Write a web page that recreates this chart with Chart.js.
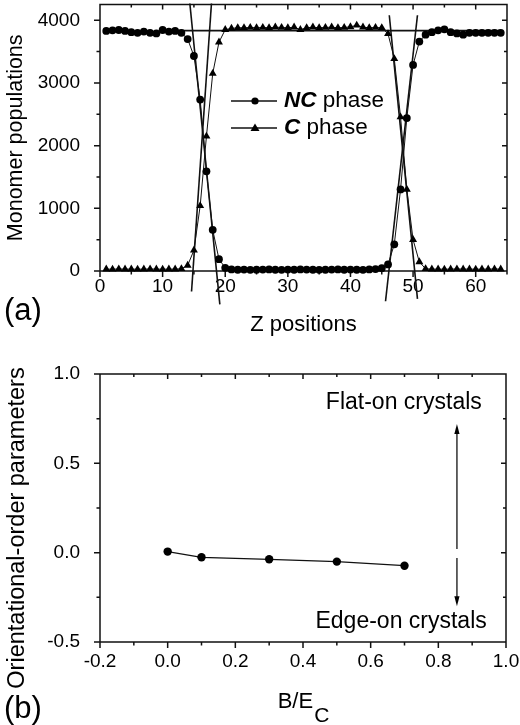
<!DOCTYPE html>
<html>
<head>
<meta charset="utf-8">
<script src="https://cdn.jsdelivr.net/npm/chart.js@4.4.0/dist/chart.umd.min.js"></script>
<style>
  html, body { margin: 0; padding: 0; background: #fff; }
  #wrap { position: relative; width: 520px; height: 725px; overflow: hidden; }
  canvas { position: absolute; left: 0; }
  #top { top: 0; }
  #bottom { top: 350px; }
</style>
</head>
<body>
<div id="wrap">
  <canvas id="top" width="520" height="350"></canvas>
  <canvas id="bottom" width="520" height="375"></canvas>
</div>
<script>
// (a) monomer populations along z
var zPos = [1, 2, 3, 4, 5, 6, 7, 8, 9, 10, 11, 12, 13, 14, 15, 16, 17, 18, 19, 20,
  21, 22, 23, 24, 25, 26, 27, 28, 29, 30, 31, 32, 33, 34, 35, 36, 37, 38, 39, 40,
  41, 42, 43, 44, 45, 46, 47, 48, 49, 50, 51, 52, 53, 54, 55, 56, 57, 58, 59, 60,
  61, 62, 63, 64];
var ncPop = [3830, 3840, 3845, 3830, 3810, 3800, 3820, 3800, 3790, 3845,
  3820, 3830, 3800, 3700, 3430, 2735, 1590, 657, 189, 50,
  25, 20, 22, 18, 20, 22, 25, 20, 18, 22, 20, 25, 22, 20, 18, 20, 22, 25, 20, 22,
  20, 18, 25, 30, 45,
  105, 425, 1302, 2440, 3287, 3660, 3770, 3810, 3840, 3855,
  3810, 3790, 3770, 3800, 3800, 3800, 3800, 3800, 3800];
var cPop = [30, 28, 32, 30, 30, 28, 30, 32, 30, 28, 30, 30, 35,
  90, 330, 1040, 2150, 3150, 3650, 3850,
  3870, 3880, 3880, 3885, 3880, 3885, 3880, 3890, 3885, 3880, 3890, 3850, 3880,
  3890, 3880, 3885, 3890, 3880, 3885, 3895, 3920, 3890, 3880, 3885, 3880,
  3784, 3386, 2457, 1302, 499, 146, 35,
  30, 30, 28, 30, 32, 30, 30, 28, 30, 30, 32, 30];
var zTicks = [0, 10, 20, 30, 40, 50, 60];
var popTicks = [0, 1000, 2000, 3000, 4000];

// straight fits through the two interfaces
var fitNcLeftX = [14.35, 19.14], fitNcLeftY = [4268, -533];
var fitCLeftX = [17.8, 14.62], fitCLeftY = [4268, -326];
var fitCRightX = [46.2, 50.7], fitCRightY = [4080, -444];
var fitNcRightX = [45.6, 50.7], fitNcRightY = [-483, 4080];
var plateauX = [9.6, 64], plateauY = [3835, 3835];

// (b) orientational order vs B/Ec
var ratioB = [0, 0.1, 0.3, 0.5, 0.7];
var orderParam = [0.006, -0.026, -0.037, -0.050, -0.073];
var ratioTicks = [-0.2, 0, 0.2, 0.4, 0.6, 0.8, 1.0];
var orderTicks = [-0.5, 0, 0.5, 1.0];
var arrowX = 0.855;
var arrowUpY = [0.02, 0.72];
var arrowDownY = [-0.03, -0.30];

var SANS = '"Liberation Sans", Arial, sans-serif';

function pts(xs, ys) {
  return xs.map(function (x, i) { return { x: x, y: ys[i] }; });
}

function fixedTicks(values) {
  return function (s) { s.ticks = values.map(function (v) { return { value: v }; }); };
}

function fitLine(xs, ys) {
  return { data: pts(xs, ys), borderColor: '#111', borderWidth: 1.6, pointRadius: 0, clip: false };
}

// box around the plot plus major/minor ticks (out on left/bottom, in on top/right)
var framePlugin = {
  id: 'frame',
  beforeDatasetsDraw: function (chart, args, o) {
    var ctx = chart.ctx, a = chart.chartArea;
    var xs = chart.scales.x, ys = chart.scales.y;
    ctx.save();
    ctx.strokeStyle = '#111';
    ctx.lineWidth = 1.5;
    ctx.beginPath();
    ctx.rect(a.left, a.top, a.right - a.left, a.bottom - a.top);
    function run(scale, minor, major, cb) {
      var ratio = Math.round(major / minor);
      for (var i = Math.ceil(scale.min / minor - 1e-9); i * minor <= scale.max + 1e-9; i++) {
        cb(scale.getPixelForValue(i * minor), i % ratio === 0);
      }
    }
    run(xs, o.xMinor, o.xMajor, function (p, big) {
      ctx.moveTo(p, a.bottom); ctx.lineTo(p, a.bottom + (big ? 6 : 3.5));
      ctx.moveTo(p, a.top); ctx.lineTo(p, a.top + (big ? 5 : 3));
    });
    run(ys, o.yMinor, o.yMajor, function (p, big) {
      ctx.moveTo(a.left, p); ctx.lineTo(a.left - (big ? 6 : 3.5), p);
      ctx.moveTo(a.right, p); ctx.lineTo(a.right - (big ? 5 : 3), p);
    });
    ctx.stroke();
    ctx.restore();
  }
};

var topLegend = {
  id: 'topLegend',
  afterDraw: function (chart) {
    var ctx = chart.ctx;
    var rows = [
      { y: 101, shape: 'circle', bold: 'NC' },
      { y: 128, shape: 'triangle', bold: 'C' }
    ];
    ctx.save();
    ctx.fillStyle = '#000';
    ctx.strokeStyle = '#111';
    ctx.lineWidth = 1.3;
    rows.forEach(function (r) {
      ctx.beginPath();
      ctx.moveTo(231, r.y); ctx.lineTo(277, r.y);
      ctx.stroke();
      ctx.beginPath();
      if (r.shape === 'circle') {
        ctx.arc(255, r.y, 3.6, 0, Math.PI * 2);
      } else {
        ctx.moveTo(255, r.y - 4.5); ctx.lineTo(259.5, r.y + 3); ctx.lineTo(250.5, r.y + 3);
        ctx.closePath();
      }
      ctx.fill();
      ctx.textBaseline = 'middle';
      ctx.textAlign = 'left';
      ctx.font = 'italic bold 22.5px ' + SANS;
      ctx.fillText(r.bold, 284, r.y);
      var w = ctx.measureText(r.bold).width;
      ctx.font = '22.5px ' + SANS;
      ctx.fillText(' phase', 284 + w, r.y);
    });
    ctx.font = '31px ' + SANS;
    ctx.textBaseline = 'alphabetic';
    ctx.fillText('(a)', 4, 320);
    ctx.restore();
  }
};

var bottomNotes = {
  id: 'bottomNotes',
  afterDraw: function (chart) {
    var ctx = chart.ctx, xs = chart.scales.x, ys = chart.scales.y;
    ctx.save();
    ctx.fillStyle = '#000';
    ctx.strokeStyle = '#111';
    ctx.lineWidth = 1.3;
    function arrow(x, y0, y1) {
      var px = xs.getPixelForValue(x), p0 = ys.getPixelForValue(y0), p1 = ys.getPixelForValue(y1);
      var dir = p1 < p0 ? 1 : -1;
      ctx.beginPath();
      ctx.moveTo(px, p0); ctx.lineTo(px, p1 + dir * 6);
      ctx.stroke();
      ctx.beginPath();
      ctx.moveTo(px, p1); ctx.lineTo(px + 2.6, p1 + dir * 10); ctx.lineTo(px - 2.6, p1 + dir * 10);
      ctx.closePath();
      ctx.fill();
    }
    arrow(arrowX, arrowUpY[0], arrowUpY[1]);
    arrow(arrowX, arrowDownY[0], arrowDownY[1]);

    ctx.font = '23px ' + SANS;
    ctx.textAlign = 'center';
    ctx.textBaseline = 'middle';
    ctx.fillText('Flat-on crystals', xs.getPixelForValue(0.698), ys.getPixelForValue(0.838));
    ctx.fillText('Edge-on crystals', xs.getPixelForValue(0.690), ys.getPixelForValue(-0.386));

    // y title
    ctx.save();
    ctx.translate(24, 178);
    ctx.rotate(-Math.PI / 2);
    ctx.font = '23.5px ' + SANS;
    ctx.textBaseline = 'alphabetic';
    ctx.fillText('Orientational-order parameters', 0, 0);
    ctx.restore();

    // x title B/E with subscript C
    ctx.textAlign = 'left';
    ctx.textBaseline = 'alphabetic';
    ctx.font = '22px ' + SANS;
    var w1 = ctx.measureText('B/E').width;
    ctx.font = '21px ' + SANS;
    var w2 = ctx.measureText('C').width;
    var x0 = 303 - (w1 + w2) / 2;
    ctx.font = '22px ' + SANS;
    ctx.fillText('B/E', x0, 358);
    ctx.font = '21px ' + SANS;
    ctx.fillText('C', x0 + w1 + 1, 372);

    ctx.font = '31px ' + SANS;
    ctx.fillText('(b)', 4, 368);
    ctx.restore();
  }
};

var tickFont = { family: SANS, size: 19 };

new Chart(document.getElementById('top'), {
  type: 'line',
  data: {
    datasets: [
      { label: 'NC phase', data: pts(zPos, ncPop), borderColor: '#111', borderWidth: 1,
        pointStyle: 'circle', pointRadius: 3.9, pointBackgroundColor: '#000', pointBorderWidth: 0, clip: false },
      { label: 'C phase', data: pts(zPos, cPop), borderColor: '#111', borderWidth: 1,
        pointStyle: 'triangle', pointRadius: 4.6, pointBackgroundColor: '#000', pointBorderWidth: 0, clip: false },
      fitLine(fitNcLeftX, fitNcLeftY),
      fitLine(fitCLeftX, fitCLeftY),
      fitLine(fitCRightX, fitCRightY),
      fitLine(fitNcRightX, fitNcRightY),
      fitLine(plateauX, plateauY)
    ]
  },
  options: {
    responsive: false,
    animation: false,
    devicePixelRatio: 1,
    layout: { padding: { left: 0, right: 13, top: 1, bottom: 0 } },
    plugins: {
      legend: { display: false },
      tooltip: { enabled: false },
      frame: { xMinor: 5, xMajor: 10, yMinor: 500, yMajor: 1000 }
    },
    scales: {
      x: {
        type: 'linear', min: 0, max: 65,
        grid: { display: false }, border: { display: false },
        ticks: { padding: -4, color: '#000', font: tickFont, maxRotation: 0, autoSkip: false },
        afterBuildTicks: fixedTicks(zTicks),
        title: { display: true, text: 'Z positions', color: '#000', font: { family: SANS, size: 22 }, padding: { top: 0, bottom: 11.4 } },
        afterFit: function (s) { s.height = 79; s.paddingLeft = 0; s.paddingRight = 0; }
      },
      y: {
        type: 'linear', min: 0, max: 4250,
        grid: { display: false }, border: { display: false },
        ticks: { padding: 12, color: '#000', font: tickFont, autoSkip: false,
          callback: function (v) { return String(v); } },
        afterBuildTicks: fixedTicks(popTicks),
        title: { display: true, text: 'Monomer populations', color: '#000', font: { family: SANS, size: 21.5 }, padding: { top: 3.6, bottom: 0 } },
        afterFit: function (s) { s.width = 100; s.paddingTop = 0; s.paddingBottom = 0; }
      }
    }
  },
  plugins: [framePlugin, topLegend]
});

new Chart(document.getElementById('bottom'), {
  type: 'line',
  data: {
    datasets: [
      { data: pts(ratioB, orderParam), borderColor: '#111', borderWidth: 1.2,
        pointStyle: 'circle', pointRadius: 4.2, pointBackgroundColor: '#000', pointBorderWidth: 0, clip: false }
    ]
  },
  options: {
    responsive: false,
    animation: false,
    devicePixelRatio: 1,
    layout: { padding: { left: 0, right: 14, top: 24, bottom: 0 } },
    plugins: {
      legend: { display: false },
      tooltip: { enabled: false },
      frame: { xMinor: 0.1, xMajor: 0.2, yMinor: 0.25, yMajor: 0.5 }
    },
    scales: {
      x: {
        type: 'linear', min: -0.2, max: 1.0,
        grid: { display: false }, border: { display: false },
        ticks: { padding: 0.8, color: '#000', font: tickFont, maxRotation: 0, autoSkip: false,
          callback: function (v) { return v.toFixed(1); } },
        afterBuildTicks: fixedTicks(ratioTicks),
        afterFit: function (s) { s.height = 83; s.paddingLeft = 0; s.paddingRight = 0; }
      },
      y: {
        type: 'linear', min: -0.5, max: 1.0,
        grid: { display: false }, border: { display: false },
        ticks: { padding: 12, color: '#000', font: tickFont, autoSkip: false,
          callback: function (v) { return v.toFixed(1); } },
        afterBuildTicks: fixedTicks(orderTicks),
        afterFit: function (s) { s.width = 100; s.paddingTop = 0; s.paddingBottom = 0; }
      }
    }
  },
  plugins: [framePlugin, bottomNotes]
});
</script>
</body>
</html>
